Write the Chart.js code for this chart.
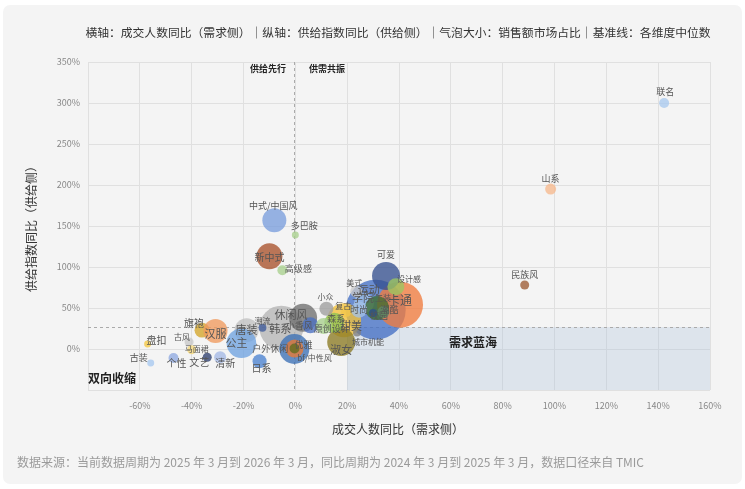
<!DOCTYPE html>
<html><head><meta charset="utf-8">
<script src="https://cdn.jsdelivr.net/npm/chart.js@4.4.1/dist/chart.umd.min.js"></script>
<style>
html,body{margin:0;padding:0;background:#fff;}
#wrap{width:745px;height:489px;position:relative;}
</style></head>
<body><div id="wrap"><canvas id="c" width="745" height="489"></canvas></div>
<script>
// ---- data ----
const categories = ['联名','山系','民族风','中式/中国风','多巴胺','新中式','高级感',
 '运动','卡通','可爱','设计感','甜美','淑女','学院','美式','工装','潮酷','校园','时尚','复古','城市机能',
 '韩系','休闲风','小香风','森系','原创设计','小众','潮流','唐装','公主',
 '户外休闲','优雅','bf/中性风','日系','旗袍','汉服','盘扣','古风','马面裙','古装','个性','文艺','清新'];
const demandYoY = [142.3,98.5,88.5,-8.1,0,-10,-5,
 31,40.4,35,38.8,18.8,17.7,26.5,23.5,31.5,34,30,24.6,19.6,23.8,
 -5.4,3,5.8,15,11,12,-12.7,-18.8,-20.8,
 -0.4,-0.3,-0.3,-13.8,-36,-30.8,-57,-41,-40,-55.8,-47,-34,-29];
const supplyYoY = [300,195,78,157,139,113,96,
 48,54,89,76,35,8.5,56,70,50,45,44,48,45,20,
 26,38,29,32,28,49,26,23,7,
 0,0.5,0.5,-15,23,22,6,8.5,-1,-17,-11,-10,-10];
const marketShare = [0.33,0.40,0.27,1.9,0.16,2.23,0.33,
 11.9,6.99,2.59,0.95,3.82,2.59,1.32,0.48,1.9,0.48,0.21,0.85,0.33,0.21,
 6.39,2.59,0.85,1.32,0.85,0.65,0.21,1.9,2.9,
 2.97,1.07,0.33,0.65,0.74,1.9,0.16,0.27,0.27,0.16,0.33,0.27,0.48];
const medianDemand = -0.4;
const medianSupply = 26.8;
const xTickValues = [-60,-40,-20,0,20,40,60,80,100,120,140,160];
const yTickValues = [0,50,100,150,200,250,300,350];

// ---- styles ----
const colors = ['#a9c9ee','#f6b98d','#9c5b35','#7a9ddd','#a8d08d','#a8512a','#a8d08d',
 '#4470c4','#ef7b3e','#34508e','#9cc760','#f2c037','#8a7a22','#9fc0e8','#c8c8c8','#3f6b2e','#5f8a6a','#2d4f8a','#a4c2e6','#f2c74b','#7f7f7f',
 '#b5b5b5','#707070','#4a6fc0','#8cc152','#a8d08d','#9e9e9e','#3d5a9a','#c0c0c0','#6fa3e0',
 '#3b6fb5','#e87a35','#5d6b1e','#4a82d0','#d4a52a','#f09a5e','#f5c842','#c8c8c8','#f5d77a','#a6c8ef','#8fa9e0','#2e3f6e','#a4b8e6'];
const labelDx = [1,0,0,-1,9,0,16,
 -7,0,0,13,7,0,-1,-2,6,6,6,0,-3,11,
 -1,-12,-11,2,8,-1,0,0,-5,
 -24,9,20,2,-8,0,9,-7,5,-12,3,-8,5];
const labelDy = [-11,-11,-10,-15,-9,1,-2,
 -20,-4,-21,-8,6,8,-5,-9,-10,-3,3,0,-6,9,
 1,-3,0,-4,3,-12,-7,0,0,
 0,-4,9,7,-7,3,-4,-5,-1,-5,5,5,6];
const labelSize = [9,9,9,9,9,10,9,
 11,12,9,8,11,11,11,8,8,9,9,9,8,8,
 11,11,9,9,9,8,8,11,11,
 9,9,8,10,10,11,10,8,8,9,10,10,10];

function hexA(h,a){const n=parseInt(h.slice(1),16);return `rgba(${n>>16&255},${n>>8&255},${n&255},${a})`;}
const points = categories.map((c,i)=>({x:demandYoY[i],y:supplyYoY[i],r:8.7*Math.sqrt(marketShare[i])}));

const bgPlugin = {
  id:'bg',
  beforeDraw(chart){
    const ctx=chart.ctx;ctx.save();
    ctx.fillStyle='#f4f4f4';
    ctx.beginPath();ctx.roundRect(3,5,739,479,7);ctx.fill();
    ctx.restore();
  },
  beforeDatasetsDraw(chart){
    const {ctx,scales:{x,y},chartArea:a}=chart;ctx.save();
    const x0=x.getPixelForValue(20),x1=x.getPixelForValue(160),y0=y.getPixelForValue(medianSupply),y1=y.getPixelForValue(-50);
    ctx.fillStyle='rgba(170,192,220,0.3)';
    ctx.fillRect(x0,y0,x1-x0,y1-y0);
    ctx.strokeStyle='#aaaaaa';ctx.lineWidth=1;ctx.setLineDash([3,3]);
    const mx=Math.round(x.getPixelForValue(medianDemand))+0.5;
    ctx.beginPath();ctx.moveTo(mx,a.top);ctx.lineTo(mx,a.bottom);ctx.stroke();
    const my=Math.round(y0)+0.5;
    ctx.beginPath();ctx.moveTo(a.left,my);ctx.lineTo(a.right,my);ctx.stroke();
    ctx.setLineDash([]);
    ctx.restore();
  },
  afterDatasetsDraw(chart){
    const {ctx}=chart;ctx.save();
    ctx.textAlign='center';ctx.textBaseline='middle';
    const meta=chart.getDatasetMeta(0);
    meta.data.forEach((el,i)=>{
      ctx.font=`${labelSize[i]}px "Noto Sans CJK SC"`;
      ctx.fillStyle='#555555';
      ctx.fillText(categories[i],el.x+labelDx[i],el.y+labelDy[i]);
    });
    ctx.fillStyle='#222';
    ctx.font='bold 9px "Noto Sans CJK SC"';
    ctx.fillText('供给先行',268,69);
    ctx.fillText('供需共振',327,69);
    ctx.font='bold 12px "Noto Sans CJK SC"';
    ctx.fillText('需求蓝海',473,342);
    ctx.fillText('双向收缩',112,378);
    ctx.fillStyle='#333';
    ctx.font='11.8px "Noto Sans CJK SC"';
    ctx.fillText('横轴：成交人数同比（需求侧）｜纵轴：供给指数同比（供给侧）｜气泡大小：销售额市场占比｜基准线：各维度中位数',398,33);
    ctx.font='12px "Noto Sans CJK SC"';
    ctx.fillText('成交人数同比（需求侧）',398,429);
    ctx.save();ctx.translate(31,226);ctx.rotate(-Math.PI/2);
    ctx.fillText('供给指数同比（供给侧）',0,0);ctx.restore();
    ctx.textAlign='left';ctx.fillStyle='#9a9a9a';
    ctx.fillText('数据来源：当前数据周期为 2025 年 3 月到 2026 年 3 月，同比周期为 2024 年 3 月到 2025 年 3 月，数据口径来自 TMIC',17,462);
    ctx.restore();
  }
};

new Chart(document.getElementById('c'),{
  type:'bubble',
  data:{datasets:[{data:points,
    backgroundColor:colors.map(c=>hexA(c,0.78)),
    borderWidth:0,hoverBorderWidth:0}]},
  options:{
    responsive:false,animation:false,
    layout:{padding:{left:0,top:62,right:35,bottom:79}},
    plugins:{legend:{display:false},tooltip:{enabled:false}},
    scales:{
      x:{type:'linear',min:-80,max:160,
        afterFit(s){s.height=20;},
        afterBuildTicks(s){s.ticks=[-80,...xTickValues].map(v=>({value:v}));},
        grid:{color:'#e0e0e0',drawTicks:false},border:{display:false},
        ticks:{padding:10,color:'#888',font:{size:9,family:'"Noto Sans CJK SC"'},
          callback:v=>v===-80?'':v+'%'}},
      y:{type:'linear',min:-50,max:350,
        afterFit(s){s.width=88;},
        afterBuildTicks(s){s.ticks=[-50,...yTickValues].map(v=>({value:v}));},
        grid:{color:'#e0e0e0',drawTicks:false},border:{display:false},
        ticks:{padding:8,color:'#888',font:{size:9,family:'"Noto Sans CJK SC"'},
          callback:v=>v===-50?'':v+'%'}}
    }
  },
  plugins:[bgPlugin]
});
</script></body></html>
